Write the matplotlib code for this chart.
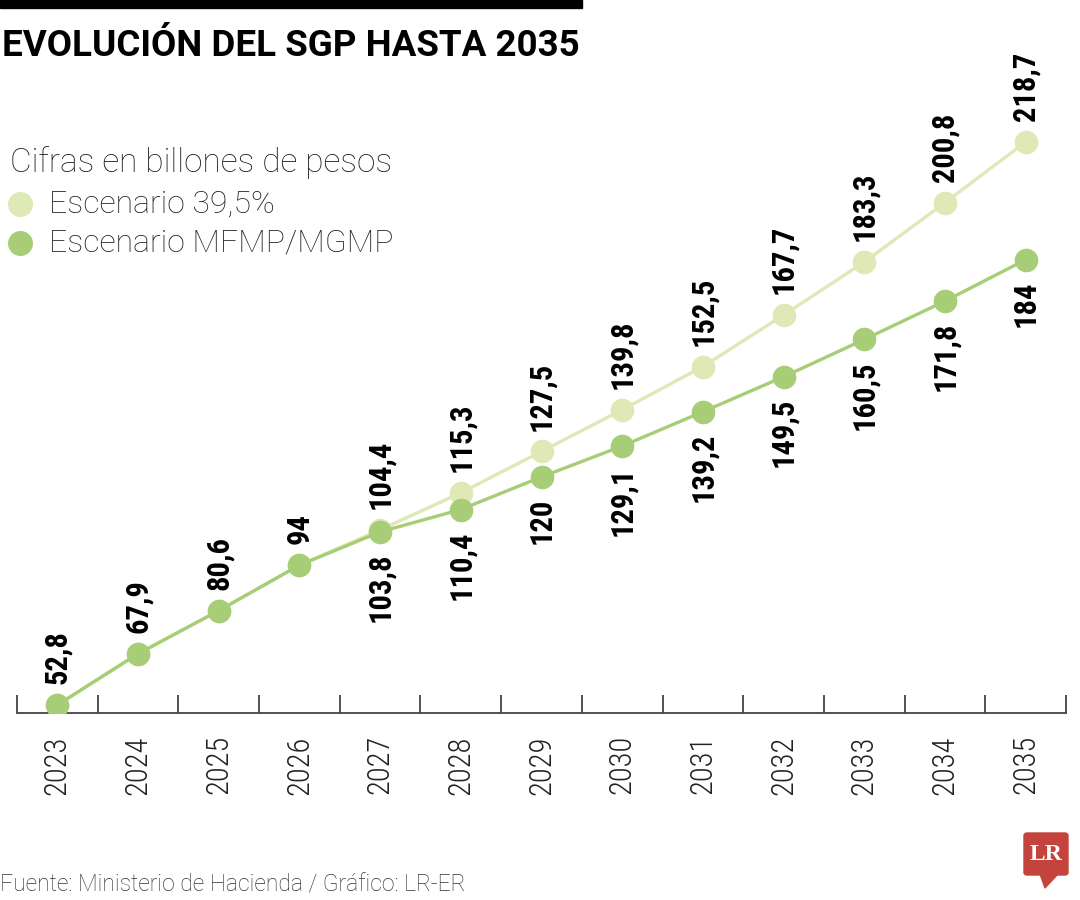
import numpy as np
import matplotlib
matplotlib.use("Agg")
import matplotlib.pyplot as plt
from matplotlib.patches import Rectangle, FancyBboxPatch, Polygon

# datos (billones de pesos)
anios = ["2023", "2024", "2025", "2026", "2027", "2028", "2029",
         "2030", "2031", "2032", "2033", "2034", "2035"]
escenario_395 = [52.8, 67.9, 80.6, 94, 104.4, 115.3, 127.5, 139.8, 152.5, 167.7, 183.3, 200.8, 218.7]
escenario_mfmp = [52.8, 67.9, 80.6, 94, 103.8, 110.4, 120, 129.1, 139.2, 149.5, 160.5, 171.8, 184]

verde_claro = "#dfe9b6"
verde = "#a7ce77"
ligera = ["Roboto", "DejaVu Sans"]
condensada = ["Roboto Condensed", "DejaVu Sans"]
plt.rcParams["font.family"] = ligera

def fmt(v):
    s = ("%.1f" % v).replace(".", ",")
    return s[:-2] if s.endswith(",0") else s

fig = plt.figure(figsize=(10.8, 9), dpi=100)

# barra negra y titulo
fig.patches.append(Rectangle((0, 1 - 8 / 900), 582 / 1080, 8 / 900,
                             transform=fig.transFigure, color="black"))
fig.text(2 / 1080, 1 - 46 / 900, "EVOLUCIÓN DEL SGP HASTA 2035", fontsize=26.5,
         fontweight="bold", va="center", ha="left")

ax = fig.add_axes([17 / 1080, 1 - 713 / 900, (1066 - 17) / 1080, (713 - 60) / 900])
x = np.arange(len(anios))
ax.plot(x, escenario_395, color=verde_claro, lw=2.4, marker="o", ms=16, zorder=3)
ax.plot(x, escenario_mfmp, color=verde, lw=2.4, marker="o", ms=16, zorder=4)

# etiquetas de valores
for i in range(len(anios)):
    ax.annotate(fmt(escenario_395[i]), (x[i], escenario_395[i]), xytext=(0, 15),
                textcoords="offset points", rotation=90, ha="center", va="bottom",
                fontsize=22, fontweight="bold", family=condensada)
    if i >= 4:
        ax.annotate(fmt(escenario_mfmp[i]), (x[i], escenario_mfmp[i]), xytext=(0, -15),
                    textcoords="offset points", rotation=90, ha="center", va="top",
                    fontsize=22, fontweight="bold", family=condensada)

ppu = 3.394
ax.set_xlim(-0.5, len(anios) - 0.5)
ax.set_ylim(52.8 - 8 / ppu, 52.8 + 645 / ppu)
for s in ["top", "right", "left"]:
    ax.spines[s].set_visible(False)
ax.spines["bottom"].set_color("#444444")
ax.spines["bottom"].set_linewidth(1.3)
ax.set_yticks([])
ax.set_xticks(x)
ax.set_xticklabels(anios, rotation=90, fontsize=22, color="#222222",
                   family=condensada, fontweight="light")
ax.tick_params(axis="x", which="major", length=0, pad=16)
ax.set_xticks(np.arange(-0.5, len(anios), 1), minor=True)
ax.tick_params(axis="x", which="minor", direction="in", length=13, width=1.3, color="#444444")
ax.patch.set_alpha(0)

# leyenda
fig.text(10 / 1080, 1 - 163 / 900, "Cifras en billones de pesos", fontsize=24,
         fontweight="light", va="center", ha="left", color="#222222")
for yy, c, t in [(204, verde_claro, "Escenario 39,5%"), (243, verde, "Escenario MFMP/MGMP")]:
    fig.add_artist(plt.Line2D([20 / 1080], [1 - yy / 900], marker="o", ms=17,
                              color=c, transform=fig.transFigure))
    fig.text(49 / 1080, 1 - yy / 900, t, fontsize=23, fontweight="light",
             va="center", ha="left", color="#222222")

# fuente
fig.text(0, 1 - 885 / 900, "Fuente: Ministerio de Hacienda / Gráfico: LR-ER", fontsize=16.5,
         fontweight="light", va="center", ha="left", color="#333333")

# logo LR
rojo = "#c4443d"
fig.patches.append(FancyBboxPatch((1024 / 1080, 1 - 875 / 900), 44 / 1080, 42 / 900,
                                  boxstyle="round,pad=0,rounding_size=0.003",
                                  transform=fig.transFigure, color=rojo))
fig.patches.append(Polygon([(1040 / 1080, 1 - 874 / 900), (1058 / 1080, 1 - 874 / 900),
                            (1045 / 1080, 1 - 888 / 900)], closed=True,
                           transform=fig.transFigure, color=rojo))
fig.text(1046 / 1080, 1 - 854 / 900, "LR", fontsize=17, fontweight="bold", color="white",
         family="Liberation Serif", ha="center", va="center")

fig.savefig("out.png", dpi=100)
